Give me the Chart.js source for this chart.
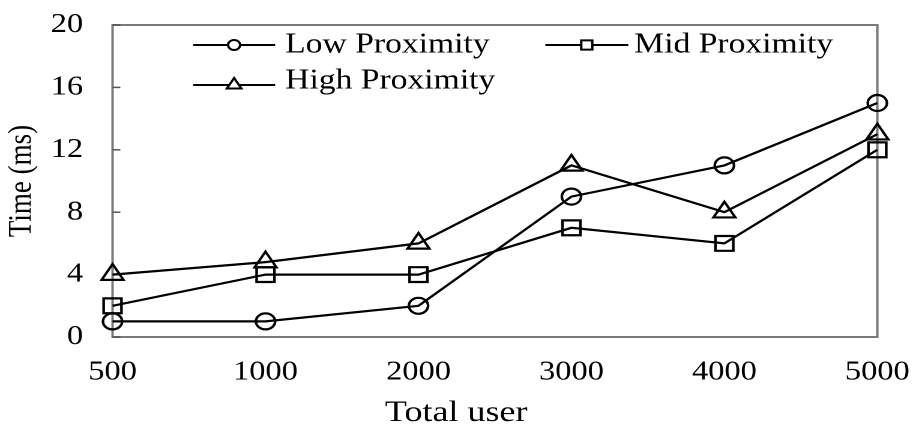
<!DOCTYPE html>
<html><head><meta charset="utf-8">
<script src="https://cdn.jsdelivr.net/npm/chart.js@4.4.1/dist/chart.umd.min.js"></script>
<style>html,body{margin:0;padding:0;background:#fff;} #wrap{width:922px;height:434px;}</style>
</head><body>
<div id="wrap"><canvas id="c" width="768" height="434" style="width:922px;height:434px;display:block"></canvas></div>
<script>
const categories = ['500', '1000', '2000', '3000', '4000', '5000'];
const lowProximity = [1, 1, 2, 9, 11, 15];
const midProximity = [2, 4, 4, 7, 6, 12];
const highProximity = [4, 4.8, 6, 11, 8, 13];
const seriesNames = ['Low Proximity', 'Mid Proximity', 'High Proximity'];
const yMin = 0, yMax = 20, yStep = 4;
const xTitle = 'Total user';
const yTitle = 'Time (ms)';

const FONT = 'Liberation Serif, Times New Roman, serif';
Chart.defaults.font.family = FONT;
Chart.defaults.color = '#000';

// layout (internal canvas px; canvas is stretched 1.2x horizontally by CSS)
const PLOT_LEFT = 93.75, PAGE_RIGHT_PAD = 8, RIGHT_GAP = 29.2, PLOT_TOP = 25, PLOT_BOTTOM = 337, H = 434;
const TITLE_FONT = 30, TITLE_PAD_BOTTOM = 3;
const titleBoxH = TITLE_FONT * 1.2 + TITLE_PAD_BOTTOM;

const frame = {
  id: 'frame',
  beforeDatasetsDraw(chart) {
    const {ctx, chartArea: a} = chart;
    ctx.save();
    ctx.strokeStyle = '#7a7a7a';
    ctx.lineWidth = 2;
    ctx.strokeRect(a.left, a.top, a.right - a.left, a.bottom - a.top);
    const ys = chart.scales.y;
    ctx.strokeStyle = '#555';
    ctx.lineWidth = 1.5;
    ys.ticks.forEach(t => {
      const py = ys.getPixelForValue(t.value);
      ctx.beginPath(); ctx.moveTo(a.left, py); ctx.lineTo(a.left + 6.5, py); ctx.stroke();
    });
    ctx.restore();
  }
};

const legendSlots = [
  {x1: 160.8, x2: 229.2, y: 45, tx: 237.5, ty: 45, r: 5},
  {x1: 454.2, x2: 523.3, y: 45, tx: 528.3, ty: 45, r: 6.5},
  {x1: 160.8, x2: 229.2, y: 85, tx: 237.5, ty: 81, r: 7}
];
const legendPlugin = {
  id: 'innerLegend',
  afterDraw(chart) {
    const ctx = chart.ctx;
    ctx.save();
    chart.data.datasets.forEach((ds, i) => {
      const s = legendSlots[i];
      ctx.strokeStyle = '#000';
      ctx.lineWidth = 2;
      ctx.beginPath(); ctx.moveTo(s.x1, s.y); ctx.lineTo(s.x2, s.y); ctx.stroke();
      ctx.fillStyle = '#fff';
      Chart.helpers.drawPoint(ctx, {pointStyle: ds.pointStyle, radius: s.r, borderWidth: 2, rotation: 0}, (s.x1 + s.x2) / 2, s.y);
      ctx.fillStyle = '#000';
      ctx.font = '28px ' + FONT;
      ctx.textAlign = 'left';
      ctx.textBaseline = 'middle';
      ctx.fillText(ds.label, s.tx, s.ty);
    });
    ctx.restore();
  }
};

function mk(label, data, style, r) {
  return {
    label, data,
    borderColor: '#000', backgroundColor: 'rgba(0,0,0,0)',
    borderWidth: 2.2, pointStyle: style, pointRadius: r, pointHoverRadius: r,
    pointBorderWidth: 2.2, pointBorderColor: '#000', pointBackgroundColor: 'rgba(0,0,0,0)',
    tension: 0, clip: false
  };
}

new Chart(document.getElementById('c'), {
  type: 'line',
  data: {
    labels: categories,
    datasets: [
      mk(seriesNames[0], lowProximity, 'circle', 8),
      mk(seriesNames[1], midProximity, 'rect', 10.5),
      mk(seriesNames[2], highProximity, 'triangle', 10.5)
    ]
  },
  options: {
    responsive: false,
    devicePixelRatio: 2,
    animation: false,
    layout: {padding: {left: 0, right: PAGE_RIGHT_PAD, top: PLOT_TOP, bottom: 0}},
    plugins: {
      legend: {display: false},
      tooltip: {enabled: false},
      title: {
        display: true, text: xTitle, position: 'bottom', color: '#000',
        font: {family: FONT, size: TITLE_FONT, weight: 'normal', lineHeight: 1.2},
        padding: {top: 0, bottom: TITLE_PAD_BOTTOM}
      }
    },
    scales: {
      x: {
        type: 'category', offset: false,
        grid: {display: false, drawTicks: false}, border: {display: false},
        ticks: {font: {size: 27}, padding: 19.3, maxRotation: 0, autoSkip: false},
        afterFit(scale) {
          scale.height = H - PLOT_BOTTOM - titleBoxH;
          scale.paddingLeft = 0; scale.paddingRight = 0;
        }
      },
      y: {
        min: yMin, max: yMax,
        grid: {display: false, drawTicks: false}, border: {display: false},
        ticks: {stepSize: yStep, font: {size: 27}, padding: 24.5},
        title: {display: true, text: yTitle, font: {size: 27}, padding: {top: 2, bottom: 0}},
        afterFit(scale) {
          scale.width = PLOT_LEFT;
          scale.paddingTop = 0; scale.paddingBottom = 0;
        }
      },
      yRight: {
        position: 'right', display: true,
        grid: {display: false, drawTicks: false}, border: {display: false},
        ticks: {display: false},
        afterFit(scale) {
          scale.width = RIGHT_GAP;
          scale.paddingTop = 0; scale.paddingBottom = 0;
        }
      }
    }
  },
  plugins: [frame, legendPlugin]
});
</script>
</body></html>
